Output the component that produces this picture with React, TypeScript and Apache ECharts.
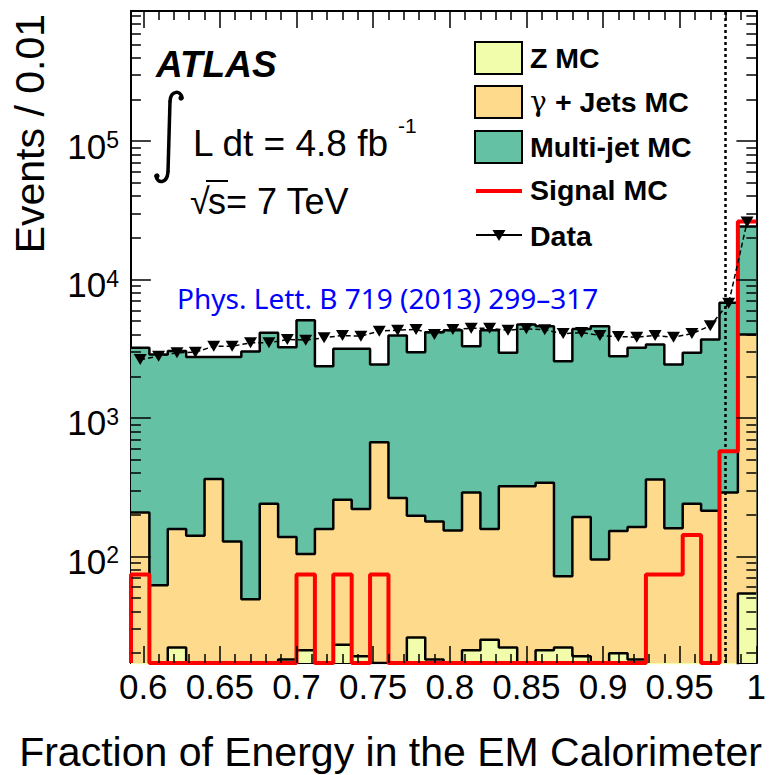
import React, { useEffect, useRef } from 'react';
import * as echarts from 'echarts';

// ---- axis definition ----
const X_MIN = 0.592;
const X_MAX = 1.0;
const BIN_W = 0.012;
const Y_MIN = 17;
const Y_MAX = 870000;
const CUT = 0.979;

// ---- tick labels ----
const xMajorTicks = [0.6, 0.65, 0.7, 0.75, 0.8, 0.85, 0.9, 0.95, 1];
const yMajorTicks = [100, 1000, 10000, 100000];

// ---- histogram contents (34 bins) ----
const zMC = [0, 0, 22, 0, 0, 0, 0, 0, 18, 21, 0, 23, 19, 17, 0, 26, 18, 0, 21, 25, 22, 0, 21, 22, 19, 0, 20, 18, 0, 0, 0, 0, 0, 54];
const gammaJetsMC = [208, 62, 136, 141, 363, 128, 49, 240, 120, 83, 158, 234, 201, 650, 264, 171, 161, 154, 269, 133, 299, 321, 319, 50, 174, 95, 133, 145, 359, 160, 240, 214, 290, 3956];
const multiJetMC = [3007, 2808, 2892, 2614, 2392, 2627, 2971, 3880, 3107, 4976, 2208, 2905, 2942, 1767, 3676, 2788, 3991, 4146, 3010, 4142, 2639, 4409, 4260, 2498, 4207, 4505, 2637, 3052, 3036, 2274, 2720, 3476, 6500, 20140];
const signalMC = [74, 0, 0, 0, 0, 0, 0, 0, 0, 74, 0, 74, 0, 74, 0, 0, 0, 0, 0, 0, 0, 0, 0, 0, 0, 0, 0, 0, 74, 74, 143, 0, 574, 26300];
const dataCounts = [2640, 2790, 2960, 2985, 3300, 3300, 3490, 3490, 3690, 3650, 3800, 3940, 3900, 4240, 4310, 4360, 4010, 4360, 4450, 4440, 4300, 4410, 4330, 4070, 4140, 3940, 3880, 3830, 3940, 3830, 4070, 4630, 6750, 26000];

const FONT = "'Liberation Sans', Arial, Helvetica, sans-serif";
const GREEN = '#65c1a4';
const ORANGE = '#fedb8c';
const ZCOL = '#f1fdab';

const W = 769;
const H = 775;
const GRID = { left: 131, right: 8, top: 11, bottom: 112 };

const N = zMC.length;
const edges = Array.from({ length: N + 1 }, (_, i) => +(X_MIN + i * BIN_W).toFixed(4));
const centers = edges.slice(0, N).map((e) => +(e + BIN_W / 2).toFixed(4));

const xMinorTicks: number[] = [];
for (let i = 0; i <= 40; i++) xMinorTicks.push(+(0.6 + i * 0.01).toFixed(2));
const yMinorTicks: number[] = [];
for (const d of [10, 100, 1000, 10000, 100000]) for (let k = 2; k <= 9; k++) if (k * d <= Y_MAX) yMinorTicks.push(k * d);

function stepData(vals: number[], floor: number, leadIn = false) {
  const pts: number[][] = [];
  if (leadIn) pts.push([edges[0], floor]);
  for (let i = 0; i <= N; i++) {
    const v = vals[Math.min(i, N - 1)];
    pts.push([edges[i], v > 0 ? v : floor]);
  }
  return pts;
}

// tick segments expressed in data space (tick lengths given in pixels are turned into axis units)
function buildTickSegments() {
  const plotW = W - GRID.left - GRID.right;
  const plotH = H - GRID.top - GRID.bottom;
  const pxPerDecade = plotH / Math.log10(Y_MAX / Y_MIN);
  const xPerPx = (X_MAX - X_MIN) / plotW;
  const segs: any[] = [];
  for (const v of xMinorTicks) {
    const len = xMajorTicks.includes(v) ? 17 : 9;
    const f = Math.pow(10, len / pxPerDecade);
    segs.push([{ coord: [v, Y_MIN] }, { coord: [v, Y_MIN * f] }]);
    segs.push([{ coord: [v, Y_MAX] }, { coord: [v, Y_MAX / f] }]);
  }
  const yTicks = [...yMajorTicks.map((v) => [v, 20]), ...yMinorTicks.map((v) => [v, 10])];
  for (const [v, len] of yTicks) {
    segs.push([{ coord: [X_MIN, v] }, { coord: [X_MIN + len * xPerPx, v] }]);
    segs.push([{ coord: [X_MAX, v] }, { coord: [X_MAX - len * xPerPx, v] }]);
  }
  return segs;
}

const frameLine = () => ({ show: true, onZero: false, lineStyle: { color: '#000', width: 2 } });

function staticGraphics(): any[] {
  return [
    {
      type: 'text', x: 30, y: 14, rotation: Math.PI / 2,
      style: { text: 'Events / 0.01', fontSize: 41, fontFamily: FONT, fill: '#000', align: 'right', verticalAlign: 'middle' },
    },
    {
      type: 'text', x: 762, y: 752,
      style: { text: 'Fraction of Energy in the EM Calorimeter', fontSize: 41, fontFamily: FONT, fill: '#000', align: 'right', verticalAlign: 'middle' },
    },
    {
      type: 'text', x: 156, y: 64,
      style: { text: 'ATLAS', fontSize: 37, fontWeight: 'bold', fontStyle: 'italic', fontFamily: FONT, fill: '#000', verticalAlign: 'middle' },
    },
    { type: 'bezierCurve', shape: { x1: 182, y1: 98, cpx1: 181, cpy1: 90, cpx2: 171, cpy2: 90, x2: 170, y2: 101 }, style: { stroke: '#000', lineWidth: 3.5, fill: 'none', lineCap: 'round' } },
    { type: 'line', shape: { x1: 170, y1: 101, x2: 168, y2: 172 }, style: { stroke: '#000', lineWidth: 3.5 } },
    { type: 'bezierCurve', shape: { x1: 168, y1: 172, cpx1: 167, cpy1: 184, cpx2: 157, cpy2: 184, x2: 156, y2: 176 }, style: { stroke: '#000', lineWidth: 3.5, fill: 'none', lineCap: 'round' } },
    { type: 'circle', shape: { cx: 181, cy: 98, r: 2.6 }, style: { fill: '#000' } },
    { type: 'circle', shape: { cx: 157, cy: 176, r: 2.6 }, style: { fill: '#000' } },
    {
      type: 'text', x: 193, y: 143,
      style: { text: 'L dt = 4.8 fb', fontSize: 37, fontFamily: FONT, fill: '#000', verticalAlign: 'middle' },
    },
    {
      type: 'text', x: 398, y: 125,
      style: { text: '-1', fontSize: 21, fontFamily: FONT, fill: '#000', verticalAlign: 'middle' },
    },
    {
      type: 'text', x: 190, y: 201,
      style: { text: '√', fontSize: 36, fontFamily: FONT, fill: '#000', verticalAlign: 'middle' },
    },
    { type: 'line', shape: { x1: 206, y1: 181, x2: 228, y2: 181 }, style: { stroke: '#000', lineWidth: 2 } },
    {
      type: 'text', x: 208, y: 201,
      style: { text: 's= 7 TeV', fontSize: 36, fontFamily: FONT, fill: '#000', verticalAlign: 'middle' },
    },
    {
      type: 'text', x: 177, y: 298,
      style: { text: 'Phys. Lett. B 719 (2013) 299–317', fontSize: 28, fontFamily: "'Noto Sans', 'Open Sans', sans-serif", fill: '#0000ff', verticalAlign: 'middle' },
    },
    // legend
    { type: 'rect', shape: { x: 475, y: 42, width: 47, height: 32 }, style: { fill: ZCOL, stroke: '#000', lineWidth: 2 } },
    { type: 'text', x: 530, y: 58, style: { text: 'Z MC', fontSize: 28.5, fontWeight: 'bold', fontFamily: FONT, fill: '#000', verticalAlign: 'middle' } },
    { type: 'rect', shape: { x: 475, y: 86, width: 47, height: 32 }, style: { fill: ORANGE, stroke: '#000', lineWidth: 2 } },
    { type: 'text', x: 530, y: 101, style: { text: 'γ', fontSize: 28, fontFamily: "'DejaVu Serif', serif", fill: '#000', verticalAlign: 'middle' } },
    { type: 'text', x: 555, y: 102, style: { text: '+ Jets MC', fontSize: 28.5, fontWeight: 'bold', fontFamily: FONT, fill: '#000', verticalAlign: 'middle' } },
    { type: 'rect', shape: { x: 475, y: 131, width: 47, height: 32 }, style: { fill: GREEN, stroke: '#000', lineWidth: 2 } },
    { type: 'text', x: 530, y: 147, style: { text: 'Multi-jet MC', fontSize: 28.5, fontWeight: 'bold', fontFamily: FONT, fill: '#000', verticalAlign: 'middle' } },
    { type: 'line', shape: { x1: 476, y1: 191, x2: 522, y2: 191 }, style: { stroke: '#ff0000', lineWidth: 4 } },
    { type: 'text', x: 530, y: 190, style: { text: 'Signal MC', fontSize: 28.5, fontWeight: 'bold', fontFamily: FONT, fill: '#000', verticalAlign: 'middle' } },
    { type: 'line', shape: { x1: 476, y1: 235, x2: 522, y2: 235 }, style: { stroke: '#000', lineWidth: 2 } },
    { type: 'polygon', shape: { points: [[492.5, 230], [505.5, 230], [499, 241]] }, style: { fill: '#000' } },
    { type: 'text', x: 530, y: 236, style: { text: 'Data', fontSize: 28.5, fontWeight: 'bold', fontFamily: FONT, fill: '#000', verticalAlign: 'middle' } },
  ];
}

export default function App() {
  const ref = useRef<HTMLDivElement>(null);
  useEffect(() => {
    if (!ref.current) return;
    const chart = echarts.init(ref.current, null, { renderer: 'svg' });
    const orangeTop = zMC.map((z, i) => z + gammaJetsMC[i]);
    const totalTop = orangeTop.map((o, i) => o + multiJetMC[i]);

    const option: any = {
      animation: false,
      textStyle: { fontFamily: FONT },
      grid: { ...GRID, containLabel: false },
      xAxis: [
        {
          type: 'value', min: X_MIN, max: X_MAX, position: 'bottom',
          axisLine: frameLine(), axisTick: { show: false }, splitLine: { show: false },
          axisLabel: { show: true, customValues: xMajorTicks, color: '#000', fontSize: 35, fontFamily: FONT, margin: 6 },
        },
        {
          type: 'value', min: X_MIN, max: X_MAX, position: 'top',
          axisLine: frameLine(), axisTick: { show: false }, splitLine: { show: false }, axisLabel: { show: false },
        },
      ],
      yAxis: [
        {
          type: 'log', logBase: 10, min: Y_MIN, max: Y_MAX, position: 'left',
          axisLine: frameLine(), axisTick: { show: false }, splitLine: { show: false },
          axisLabel: {
            show: true, customValues: yMajorTicks, margin: 12, padding: [10, 0, 0, 0],
            formatter: (v: number) => `{b|10}{s|${Math.round(Math.log10(v))}}`,
            rich: {
              b: { fontSize: 35, fontFamily: FONT, color: '#000' },
              s: { fontSize: 23, fontFamily: FONT, color: '#000', verticalAlign: 'top' },
            },
          },
        },
        {
          type: 'log', logBase: 10, min: Y_MIN, max: Y_MAX, position: 'right',
          axisLine: frameLine(), axisTick: { show: false }, splitLine: { show: false }, axisLabel: { show: false },
        },
      ],
      series: [
        {
          name: 'Multi-jet MC', type: 'line', step: 'end', symbol: 'none', clip: true, z: 2,
          data: stepData(totalTop, 1),
          lineStyle: { color: '#000', width: 2.5 },
          areaStyle: { color: GREEN, opacity: 1, origin: 'start' },
        },
        {
          name: 'gamma + Jets MC', type: 'line', step: 'end', symbol: 'none', clip: true, z: 3,
          data: stepData(orangeTop, 1),
          lineStyle: { color: '#000', width: 2.5 },
          areaStyle: { color: ORANGE, opacity: 1, origin: 'start' },
        },
        {
          name: 'Z MC', type: 'line', step: 'end', symbol: 'none', clip: true, z: 4,
          data: stepData(zMC, 1),
          lineStyle: { color: '#000', width: 2.5 },
          areaStyle: { color: ZCOL, opacity: 1, origin: 'start' },
        },
        {
          name: 'Signal MC', type: 'line', step: 'end', symbol: 'none', clip: false, z: 5,
          data: stepData(signalMC, Y_MIN, true),
          lineStyle: { color: '#ff0000', width: 4 },
        },
        {
          name: 'Data', type: 'line', z: 6, clip: false,
          data: centers.map((c, i) => [c, dataCounts[i]]),
          symbol: 'triangle', symbolRotate: 180, symbolSize: [13, 11],
          itemStyle: { color: '#000' },
          lineStyle: { color: '#000', width: 1.5, type: [5, 3] },
          markLine: {
            silent: true, symbol: ['none', 'none'], label: { show: false },
            lineStyle: { color: '#000', width: 2.5, type: [3, 3] },
            data: [{ xAxis: CUT }],
          },
        },
        {
          name: 'frame ticks', type: 'line', z: 10, clip: false, silent: true,
          data: [[X_MIN, Y_MIN]], symbol: 'none', showSymbol: false,
          lineStyle: { opacity: 0 },
          markLine: {
            silent: true, symbol: ['none', 'none'], label: { show: false }, z: 10,
            lineStyle: { color: '#000', width: 1.5, type: 'solid' },
            data: buildTickSegments(),
          },
        },
      ],
      graphic: staticGraphics(),
    };
    chart.setOption(option);
    return () => chart.dispose();
  }, []);
  return <div ref={ref} style={{ position: 'absolute', left: 0, top: 0, width: W, height: H, background: '#fff' }} />;
}
